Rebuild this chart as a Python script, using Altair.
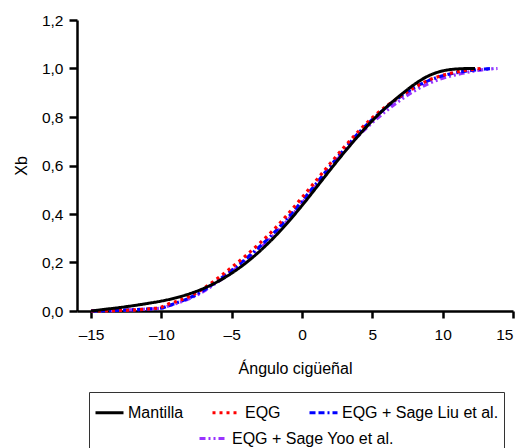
import altair as alt
import pandas as pd

series_main = ["Mantilla", "EQG", "EQG + Sage Liu et al."]
colors_main = ["#000000", "#ff0000", "#0000ff"]
dashes_main = [[1, 0], [3, 4], [6, 3, 6, 3, 2, 3]]
series_yoo = ["EQG + Sage Yoo et al."]
colors_yoo = ["#9933ff"]
dashes_yoo = [[6, 3, 2, 3, 2, 3]]

theta_mantilla = [-15, -14, -13, -12, -11, -10, -9, -8, -7, -6, -5, -4, -3, -2, -1,
                  0, 1, 2, 3, 4, 5, 6, 7, 8, 9, 10, 11, 12, 12.3]
xb_mantilla = [0.0, 0.007, 0.014, 0.022, 0.031, 0.041, 0.054, 0.071, 0.093, 0.121, 0.156,
               0.198, 0.247, 0.303, 0.366, 0.435, 0.508, 0.582, 0.654, 0.722, 0.785,
               0.841, 0.89, 0.935, 0.97, 0.99, 0.998, 1.0, 1.0]

theta_eqg = [-15, -14, -13, -12, -11, -10, -9.5, -9, -8, -7, -6, -5, -4, -3, -2, -1,
             0, 1, 2, 3, 4, 5, 6, 7, 8, 9, 10, 11, 12, 12.7]
xb_eqg = [0.0, 0.0, 0.002, 0.004, 0.008, 0.016, 0.029, 0.038, 0.06, 0.093, 0.135, 0.18,
          0.228, 0.28, 0.336, 0.40, 0.468, 0.538, 0.608, 0.676, 0.74, 0.797, 0.845, 0.886,
          0.922, 0.952, 0.972, 0.986, 0.995, 1.0]

theta_liu = [-15, -14, -13, -12, -11, -10, -9.5, -9, -8, -7, -6, -5, -4, -3, -2, -1,
             0, 1, 2, 3, 4, 5, 6, 7, 8, 9, 10, 11, 12, 13, 13.6]
xb_liu = [0.0, 0.001, 0.003, 0.005, 0.008, 0.012, 0.022, 0.032, 0.054, 0.085, 0.125, 0.168,
          0.215, 0.266, 0.322, 0.385, 0.453, 0.525, 0.597, 0.667, 0.733, 0.79, 0.84, 0.884,
          0.922, 0.95, 0.97, 0.983, 0.992, 0.998, 1.0]

theta_yoo = [-15, -14, -13, -12, -11, -10, -9.5, -9, -8, -7, -6, -5, -4, -3, -2, -1,
             0, 1, 2, 3, 4, 5, 6, 7, 8, 9, 10, 11, 12, 13, 13.9]
xb_yoo = [0.0, 0.001, 0.003, 0.005, 0.008, 0.012, 0.021, 0.03, 0.051, 0.081, 0.12, 0.162,
          0.208, 0.258, 0.313, 0.376, 0.445, 0.517, 0.589, 0.658, 0.722, 0.777, 0.826, 0.87,
          0.908, 0.938, 0.96, 0.975, 0.987, 0.996, 1.0]

x_ticks = [-15, -10, -5, 0, 5, 10, 15]
y_ticks = [0.0, 0.2, 0.4, 0.6, 0.8, 1.0, 1.2]

FONT = "Liberation Sans"

def frame(name, th, xb):
    return pd.DataFrame({"theta": th, "xb": xb, "serie": name})

colored = pd.concat([
    frame(series_main[2], theta_liu, xb_liu),
    frame(series_main[1], theta_eqg, xb_eqg),
], ignore_index=True)
black = frame(series_main[0], theta_mantilla, xb_mantilla)
yoo = frame(series_yoo[0], theta_yoo, xb_yoo)

common_legend = dict(
    orient="none", symbolType="stroke", symbolSize=784, symbolStrokeWidth=3,
    labelFont=FONT, labelFontSize=16, labelColor="black", labelOffset=3,
    labelLimit=300,
)
legend_main = alt.Legend(
    title="\u00a0", titleOrient="bottom", titleFontSize=22, titlePadding=6,
    legendX=12, legendY=372, direction="horizontal", columnPadding=22,
    strokeColor="#333333", padding=5, **common_legend,
)
legend_yoo = alt.Legend(
    title=None, legendX=121, legendY=403, direction="horizontal", padding=0,
    **common_legend,
)

x_enc = alt.X("theta:Q", scale=alt.Scale(domain=[-16, 15], nice=False, zero=False),
              axis=alt.Axis(values=x_ticks, title="Ángulo cigüeñal", tickSize=7,
                            labelPadding=9, titleY=62, titleBaseline="alphabetic",
                            labelExpr="datum.value < 0 ? '–' + abs(datum.value) : '' + datum.value"))
y_enc = alt.Y("xb:Q", scale=alt.Scale(domain=[0, 1.2], nice=False),
              axis=alt.Axis(values=y_ticks, title="Xb", tickSize=8, labelPadding=6,
                            titleX=-51, titleBaseline="alphabetic",
                            labelExpr="replace(format(datum.value, '.1f'), '.', ',')"))

main_color = alt.Color("serie:N", scale=alt.Scale(domain=series_main, range=colors_main),
                       legend=legend_main)
main_dash = alt.StrokeDash("serie:N", scale=alt.Scale(domain=series_main, range=dashes_main),
                           legend=legend_main)
yoo_color = alt.Color("serie:N", scale=alt.Scale(domain=series_yoo, range=colors_yoo),
                      legend=legend_yoo)
yoo_dash = alt.StrokeDash("serie:N", scale=alt.Scale(domain=series_yoo, range=dashes_yoo),
                          legend=legend_yoo)

l_yoo = alt.Chart(yoo).mark_line(strokeWidth=3.2, interpolate="monotone").encode(
    x=x_enc, y=y_enc, color=yoo_color, strokeDash=yoo_dash)
l_col = alt.Chart(colored).mark_line(strokeWidth=3.2, interpolate="monotone").encode(
    x=x_enc, y=y_enc, color=main_color, strokeDash=main_dash, detail="serie:N")
l_blk = alt.Chart(black).mark_line(strokeWidth=3, interpolate="monotone").encode(
    x=x_enc, y=y_enc, color=main_color, strokeDash=main_dash)

chart = alt.layer(l_yoo, alt.layer(l_col, l_blk)).resolve_scale(
    color="independent", strokeDash="independent"
).properties(
    width=436, height=291,
    autosize=alt.AutoSizeParams(type="none"),
    padding={"left": 77, "top": 20, "right": 7, "bottom": 137},
).configure_view(stroke=None).configure_axis(
    domainColor="black", domainWidth=2.5, tickColor="black", tickWidth=2.5,
    labelColor="black", labelFont=FONT, labelFontSize=15.5, titleFont=FONT,
    titleFontSize=16, titleFontWeight="normal", titleColor="black", grid=False,
)

chart.save("out.html", embed_options={"renderer": "svg", "actions": False})
